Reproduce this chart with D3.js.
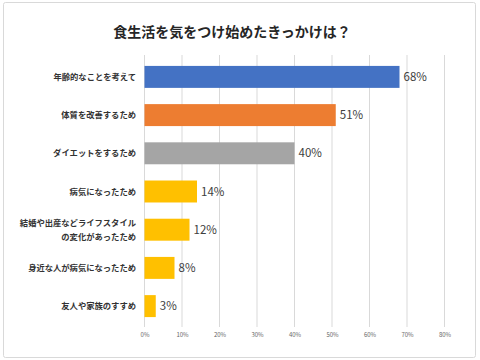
<!DOCTYPE html>
<html><head><meta charset="utf-8">
<script src="https://cdn.jsdelivr.net/npm/d3@7"></script>
<style>body{margin:0;background:#fff}svg{display:block}</style>
</head><body>
<svg id="c" width="480" height="360"></svg>
<script>
const categories = ["年齢的なことを考えて","体質を改善するため","ダイエットをするため","病気になったため","結婚や出産などライフスタイル\nの変化があったため","身近な人が病気になったため","友人や家族のすすめ"];
const values = [68,51,40,14,12,8,3];
const barColors = ["#4472C4","#ED7D31","#A5A5A5","#FFC000","#FFC000","#FFC000","#FFC000"];
const tickValues = [0,10,20,30,40,50,60,70,80];
const title = "食生活を気をつけ始めたきっかけは？";

const svg = d3.select("#c");
const font = "'Noto Sans CJK JP','Noto Sans',sans-serif";
svg.append("rect").attr("x",3.5).attr("y",2.5).attr("width",472).attr("height",355)
  .attr("fill","#fff").attr("stroke","#d9d9d9").attr("rx",2);

const x = d3.scaleLinear().domain([0,80]).range([144.5,444.5]);
const y = d3.scaleBand().domain(categories).range([57.8,325.2]).paddingInner(0.425).paddingOuter(0.2125);

svg.append("text").attr("x",232).attr("y",37).attr("text-anchor","middle")
  .attr("font-family",font).attr("font-size",14).attr("font-weight","bold").attr("fill","#262626").text(title);

const grid = svg.append("g");
grid.selectAll("line").data(tickValues).join("line")
  .attr("x1",d=>x(d)).attr("x2",d=>x(d)).attr("y1",55).attr("y2",327)
  .attr("stroke","#d9d9d9").attr("stroke-width",1);

const axis = d3.axisBottom(x).tickValues(tickValues).tickFormat(d=>d+"%").tickSize(0);
const ag = svg.append("g").attr("transform","translate(0,330)").call(axis);
ag.select(".domain").remove();
ag.selectAll("text").attr("font-family",font).attr("font-size",6).attr("fill","#666");

svg.append("g").selectAll("text.v").data(values).join("text")
  .attr("x",d=>x(d)+4).attr("y",(d,i)=>y(categories[i])+y.bandwidth()/2+4)
  .attr("font-family",font).attr("font-size",11.5).attr("fill","#404040").text(d=>d+"%");

svg.append("g").selectAll("rect").data(values).join("rect")
  .attr("x",x(0)).attr("y",(d,i)=>y(categories[i]))
  .attr("width",d=>x(d)-x(0)).attr("height",y.bandwidth())
  .attr("fill",(d,i)=>barColors[i]);

const lab = svg.append("g");
categories.forEach((c,i)=>{
  const lines = c.split("\n");
  const cy = y(c)+y.bandwidth()/2;
  const t = lab.append("text").attr("text-anchor","end").attr("font-family",font)
    .attr("font-size",8.3).attr("font-weight","bold").attr("fill","#333");
  lines.forEach((l,j)=>{
    t.append("tspan").attr("x",136).attr("y",cy+3+(j-(lines.length-1)/2)*14).text(l);
  });
});
</script>
</body></html>
